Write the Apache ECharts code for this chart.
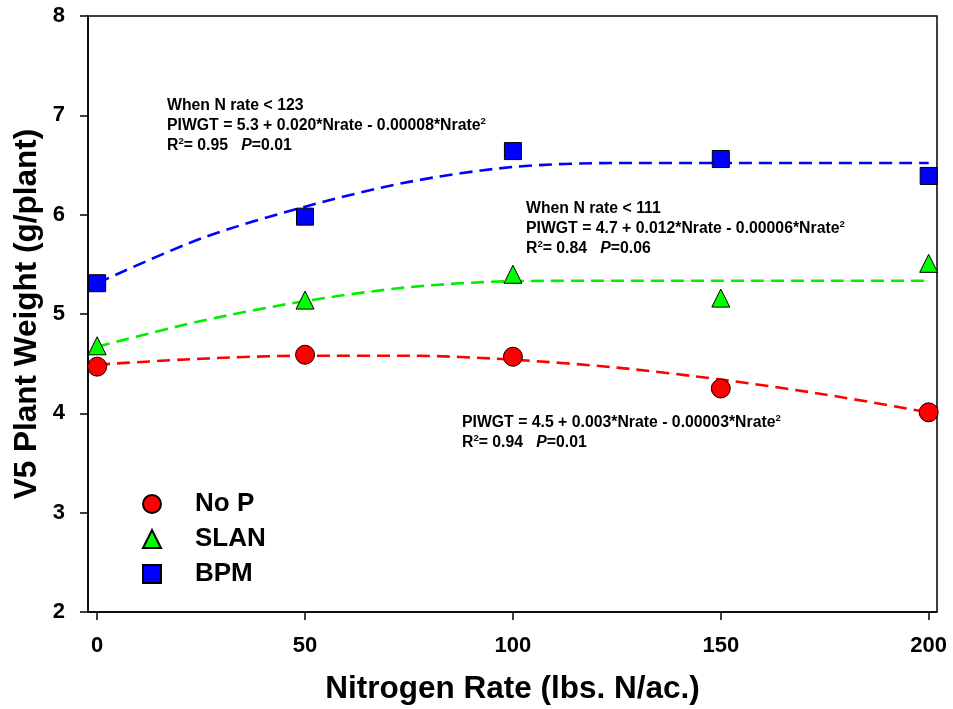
<!DOCTYPE html>
<html>
<head>
<meta charset="utf-8">
<script src="https://cdn.jsdelivr.net/npm/echarts@6/dist/echarts.min.js"></script>
<style>
  html, body { margin: 0; padding: 0; background: #fff; }
  #chart { width: 953px; height: 709px; }
</style>
</head>
<body>
<div id="chart"></div>
<script>
const FONT = "'Liberation Sans', Arial, sans-serif";

// measured points
const rates = [0, 50, 100, 150, 200];
const noP = [4.47, 4.59, 4.57, 4.25, 4.01];
const slan = [4.68, 5.14, 5.40, 5.16, 5.51];
const bpm = [5.31, 5.98, 6.64, 6.56, 6.39];

// fitted curves
const fitRates = [0, 25, 50, 75, 100, 125, 150, 175, 200];
const noPFit = [4.49, 4.55, 4.58, 4.58, 4.54, 4.46, 4.34, 4.19, 4.01];
const slanFit = [4.67, 4.93, 5.13, 5.27, 5.33, 5.335, 5.335, 5.335, 5.335];
const bpmFit = [5.31, 5.76, 6.08, 6.33, 6.48, 6.52, 6.52, 6.52, 6.52];

const xTicks = [0, 50, 100, 150, 200];

const pairs = (xs, ys) => xs.map((x, i) => [x, ys[i]]);

const rich = {
  b: { fontFamily: FONT, fontWeight: "bold", fontSize: 15.8, lineHeight: 20, fill: "#000" },
  i: { fontFamily: FONT, fontWeight: "bold", fontStyle: "italic", fontSize: 15.8, lineHeight: 20, fill: "#000" },
  s: { fontFamily: FONT, fontWeight: "bold", fontSize: 9.5, lineHeight: 14, verticalAlign: "top", fill: "#000" },
};

const note = (x, y, text) => ({
  type: "text",
  x,
  y,
  style: { text, rich, align: "left", verticalAlign: "top" },
});

const fitLine = (name, data, color) => ({
  name,
  type: "line",
  data: pairs(fitRates, data),
  smooth: 0.3,
  symbol: "none",
  silent: true,
  z: 2,
  lineStyle: { color, width: 2.6, type: [13, 7] },
});

const points = (name, data, symbol, size, color) => ({
  name,
  type: "scatter",
  data: pairs(rates, data),
  symbol,
  symbolSize: size,
  z: 5,
  itemStyle: { color, borderColor: "#000", borderWidth: 1, opacity: 1 },
});

const option = {
  animation: false,
  backgroundColor: "#fff",
  grid: {
    left: 88, right: 16, top: 16, bottom: 97,
    containLabel: false,
    outerBoundsMode: "none",
    show: true,
    borderColor: "#000",
    borderWidth: 1.5,
  },
  legend: {
    orient: "vertical",
    left: 137,
    top: 486,
    itemWidth: 18,
    itemHeight: 18,
    itemGap: 9,
    textStyle: {
      fontFamily: FONT, fontWeight: "bold", fontSize: 26, color: "#000",
      padding: [0, 0, 0, 29],
    },
    data: [
      { name: "No P", icon: "circle" },
      { name: "SLAN", icon: "triangle" },
      { name: "BPM", icon: "rect" },
    ],
  },
  xAxis: {
    type: "value",
    min: -2.2,
    max: 202,
    name: "Nitrogen Rate (lbs. N/ac.)",
    nameLocation: "middle",
    nameGap: 61,
    nameMoveOverlap: false,
    nameTextStyle: { fontFamily: FONT, fontWeight: "bold", fontSize: 31.5, color: "#000" },
    axisLine: { onZero: false, lineStyle: { color: "#000", width: 1.5 } },
    axisTick: { show: true, length: 8, customValues: xTicks, lineStyle: { color: "#000", width: 1.5 } },
    axisLabel: {
      customValues: xTicks,
      margin: 23,
      fontFamily: FONT, fontWeight: "bold", fontSize: 22, color: "#000",
    },
    splitLine: { show: false },
  },
  yAxis: {
    type: "value",
    min: 2,
    max: 8,
    interval: 1,
    name: "V5 Plant Weight (g/plant)",
    nameLocation: "middle",
    nameGap: 45,
    nameMoveOverlap: false,
    nameTextStyle: { fontFamily: FONT, fontWeight: "bold", fontSize: 31.5, color: "#000" },
    axisLine: { onZero: false, lineStyle: { color: "#000", width: 1.5 } },
    axisTick: { show: true, length: 8, lineStyle: { color: "#000", width: 1.5 } },
    axisLabel: { margin: 23, fontFamily: FONT, fontWeight: "bold", fontSize: 22, color: "#000" },
    splitLine: { show: false },
  },
  series: [
    fitLine("BPM fit", bpmFit, "#0000FF"),
    fitLine("SLAN fit", slanFit, "#00EE00"),
    fitLine("No P fit", noPFit, "#FF0000"),
    points("No P", noP, "circle", 19, "#FF0000"),
    points("SLAN", slan, "triangle", 18, "#00FF00"),
    points("BPM", bpm, "rect", 17, "#0000FF"),
  ],
  graphic: [
    note(167, 96,
      "{b|When N rate < 123}\n{b|PIWGT = 5.3 + 0.020*Nrate - 0.00008*Nrate}{s|2}\n{b|R}{s|2}{b|= 0.95   }{i|P}{b|=0.01}"),
    note(526, 199,
      "{b|When N rate < 111}\n{b|PIWGT = 4.7 + 0.012*Nrate - 0.00006*Nrate}{s|2}\n{b|R}{s|2}{b|= 0.84   }{i|P}{b|=0.06}"),
    note(462, 413,
      "{b|PIWGT = 4.5 + 0.003*Nrate - 0.00003*Nrate}{s|2}\n{b|R}{s|2}{b|= 0.94   }{i|P}{b|=0.01}"),
  ],
};

const chart = echarts.init(document.getElementById("chart"), null, { renderer: "canvas" });
chart.setOption(option);
</script>
</body>
</html>
